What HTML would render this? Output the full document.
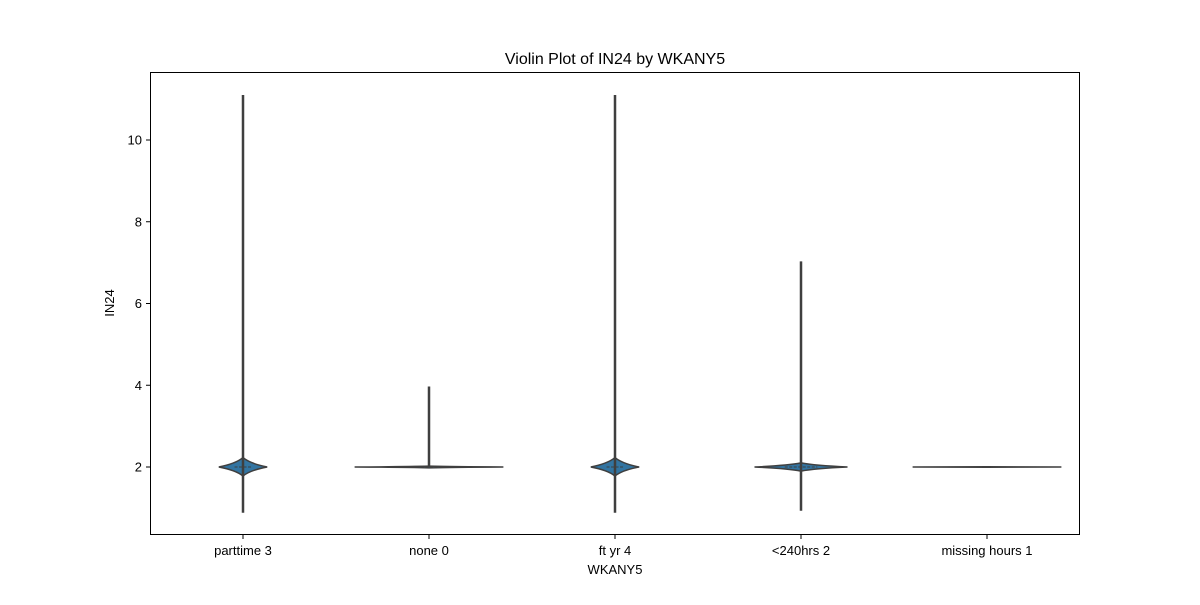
<!DOCTYPE html>
<html><head><meta charset="utf-8"><style>
body{margin:0;background:#fff;font-family:"Liberation Sans",sans-serif}
text{font-family:"Liberation Sans",sans-serif;fill:#000}
</style></head><body>
<svg id="chart" width="1200" height="600" xmlns="http://www.w3.org/2000/svg">
<rect width="1200" height="600" fill="#fff"/>
<text x="615" y="64" font-size="16" text-anchor="middle">Violin Plot of IN24 by WKANY5</text>
<g id="marks"></g>
<g id="axes"></g>
<rect x="150.5" y="72.5" width="929" height="462" fill="none" stroke="#000" stroke-width="1"/>
<text x="615" y="574" font-size="13" text-anchor="middle">WKANY5</text>
<text x="114" y="303" font-size="13" text-anchor="middle" transform="rotate(-90 114 303)">IN24</text>
</svg>
<script>
const categories=["parttime 3","none 0","ft yr 4","<240hrs 2","missing hours 1"];
const medians=[2,2,2,2,2];
const mins=[0.88,2,0.88,0.93,2];
const maxs=[11.1,3.97,11.1,7.03,2];
const bodyUp=[0.23,0.02,0.23,0.1,0.005];
const bodyDown=[0.22,0.02,0.22,0.1,0.005];
const widths=[0.26,0.8,0.26,0.5,0.8];
const yTicks=[2,4,6,8,10];
const NS="http://www.w3.org/2000/svg";
const x0=150,pw=930,step=pw/categories.length;
const xc=i=>x0+step*(i+0.5);
const y=v=>467-(v-2)*40.875;
const marks=document.getElementById('marks'),axes=document.getElementById('axes');
function mk(tag,attrs,parent){const e=document.createElementNS(NS,tag);for(const k in attrs)e.setAttribute(k,attrs[k]);parent.appendChild(e);return e;}
categories.forEach((c,i)=>{
  const cx=xc(i),hw=widths[i]*step/2,ym=y(medians[i]),yt=y(medians[i]+bodyUp[i]),yb=y(medians[i]-bodyDown[i]);
  const ut=ym-yt,ub=yb-ym;
  const d=`M${cx},${yt} Q${cx+hw*0.3},${ym-ut*0.35} ${cx+hw},${ym} Q${cx+hw*0.3},${ym+ub*0.35} ${cx},${yb} Q${cx-hw*0.3},${ym+ub*0.35} ${cx-hw},${ym} Q${cx-hw*0.3},${ym-ut*0.35} ${cx},${yt} Z`;
  const p=mk('path',{d:d,fill:'#3274a1',stroke:'#3f3f3f','stroke-width':1.5},marks);
  
  
  const l=mk('line',{x1:cx,x2:cx,y1:y(mins[i]),y2:y(maxs[i]),stroke:'#3f3f3f','stroke-width':2.5},marks);
  
  
  const m=mk('line',{x1:cx-hw*0.35,x2:cx+hw*0.35,y1:ym,y2:ym,stroke:'#3f3f3f','stroke-width':1,'stroke-dasharray':'3,1.5'},marks);
  
  
  const t=mk('line',{x1:cx,x2:cx,y1:535,y2:539,stroke:'#000'},axes);
  
  
  const lb=mk('text',{x:cx,y:555,'font-size':13,'text-anchor':'middle'},axes);
  lb.textContent=c;
  
  
});
yTicks.forEach(v=>{
  const t=mk('line',{x1:146,x2:150,y1:y(v),y2:y(v),stroke:'#000'},axes);
  
  
  const lb=mk('text',{x:142,y:y(v)+4.5,'font-size':13,'text-anchor':'end'},axes);
  lb.textContent=v;
  
  
});
</script>
</body></html>
